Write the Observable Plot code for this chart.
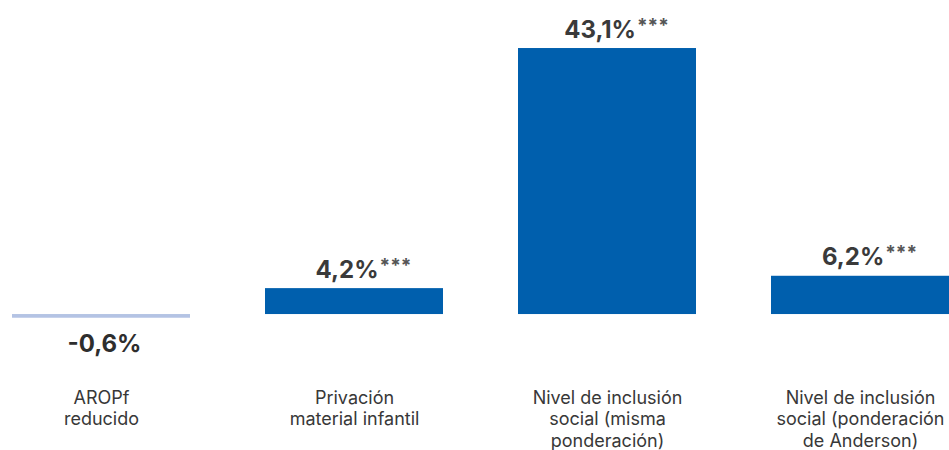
<!DOCTYPE html>
<html>
<head>
<meta charset="utf-8">
<script src="https://cdn.jsdelivr.net/npm/d3@7"></script>
<script src="https://cdn.jsdelivr.net/npm/@observablehq/plot@0.6"></script>
<style>
  html, body { margin: 0; padding: 0; background: #fff; overflow: hidden; }
</style>
</head>
<body>
<div id="chart"></div>
<script>
const categories = [
  "AROPf\nreducido",
  "Privación\nmaterial infantil",
  "Nivel de inclusión\nsocial (misma\nponderación)",
  "Nivel de inclusión\nsocial (ponderación\nde Anderson)"
];
const values = [-0.6, 4.2, 43.1, 6.2];
const significance = ["", "***", "***", "***"];

const BLUE = "#005fad";
const LIGHT = "#b4c3e4";

const fmt = v => v.toFixed(1).replace(".", ",") + "%";
const data = categories.map((c, i) => ({
  cat: c,
  value: values[i],
  label: fmt(values[i]) + significance[i]
}));
const pos = data.filter(d => d.value >= 0);
const neg = data.filter(d => d.value < 0);

const chart = Plot.plot({
  width: 949,
  height: 450,
  marginLeft: 0,
  marginRight: 0,
  marginTop: 0,
  marginBottom: 65,
  style: { fontFamily: "Inter, 'Noto Sans', sans-serif", background: "#fff", color: "#383838" },
  x: { domain: categories, range: [-25.5, 986.5], paddingInner: 0.296, paddingOuter: 0.148, label: null },
  y: { domain: [-5, 45], range: [344.9, 36.3], axis: null },
  marks: [
    Plot.barY(data, { x: "cat", y: "value", fill: d => d.value < 0 ? LIGHT : BLUE }),
    Plot.text(pos, { x: "cat", y: "value", text: "label", lineAnchor: "bottom", dy: -11, dx: 9,
      fontSize: 24, fontWeight: 700, fill: "#3a3a3a" }),
    Plot.text(neg, { x: "cat", y: "value", text: "label", lineAnchor: "top", dy: 17, dx: 3,
      fontSize: 24, fontWeight: 700, fill: "#2e2e2e" }),
    Plot.axisX({ tickSize: 0, tickPadding: 3, fontSize: 18, lineHeight: 1.2, label: null })
  ]
});

d3.select(chart).selectAll("text").each(function () {
  if (this.querySelector("tspan")) return;
  const t = this.textContent;
  const m = t.match(/^(.*?%)(\*+)$/);
  if (m) {
    const sel = d3.select(this);
    sel.text(m[1]);
    sel.append("tspan").attr("dx", 1).attr("dy", -6).attr("font-size", 19).attr("fill", "#555").text(m[2]);
  }
});

document.getElementById("chart").appendChild(chart);
</script>
</body>
</html>
